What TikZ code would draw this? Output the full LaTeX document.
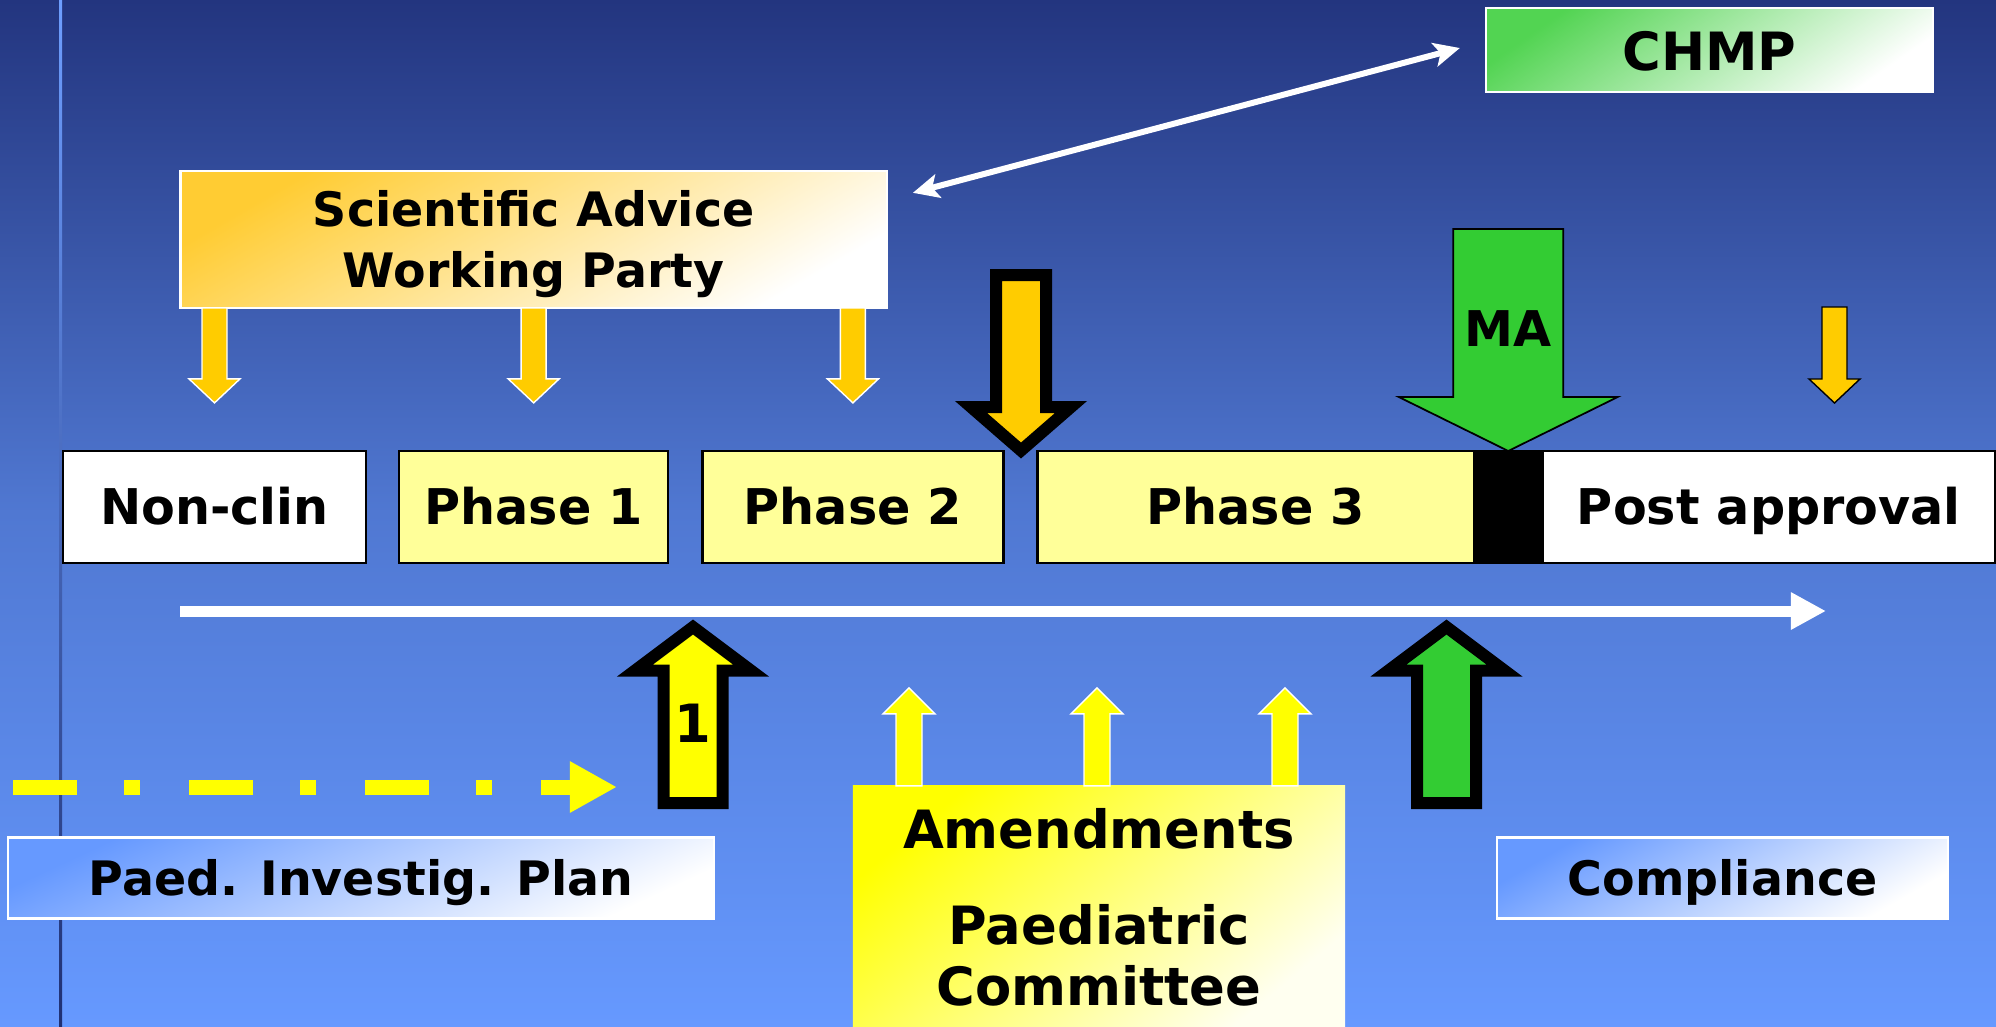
\documentclass[tikz,border=0pt]{standalone}
\usepackage{fontspec}
\setmainfont{DejaVu Sans}
\usetikzlibrary{positioning,arrows.meta}

\definecolor{bgtop}{RGB}{35,53,127}
\definecolor{bgmid}{RGB}{80,120,210}
\definecolor{bgbot}{RGB}{102,153,255}
\definecolor{phaseyellow}{RGB}{255,255,153}
\definecolor{advorange}{RGB}{255,204,0}
\definecolor{sawpgold}{RGB}{255,204,51}
\definecolor{magreen}{RGB}{51,204,51}
\definecolor{pipblue}{RGB}{102,153,255}
\definecolor{pdcoyellow}{RGB}{255,255,0}
\definecolor{paleyellow}{RGB}{255,255,240}

\begin{document}
\begin{tikzpicture}[
  x=0.01cm, y=-0.01cm,
  font=\fontsize{14}{17}\selectfont\bfseries,
  phase/.style={draw, line width=0.7pt, fill=phaseyellow, minimum height=1.12cm, inner sep=0pt, outer sep=0pt, text height=10.2pt, text depth=0pt},
  gradbox/.style={draw=white, line width=0.6pt, inner sep=0pt, outer sep=0pt, top color=#1, bottom color=white, shading angle=30},
  captext/.style={text height=10.2pt, text depth=0pt},
  advarrow/.style={fill=advorange, draw=white, line width=0.4pt},
  pdcoarrow/.style={fill=pdcoyellow, draw=white, line width=0.4pt},
  bigarrow/.style={draw=black, line width=0.12cm, line join=miter},
  timeline/.style={white, line width=0.11cm, -{Triangle[length=0.35cm,width=0.35cm]}},
  pipline/.style={pdcoyellow, line width=0.15cm, dash pattern=on 18.2pt off 13.4pt on 4.55pt off 13.9pt, -{Triangle[length=0.47cm,width=0.48cm]}},
  link/.style={white, line width=0.06cm, {Stealth[length=0.26cm,width=0.24cm,inset=0.06cm]}-{Stealth[length=0.26cm,width=0.24cm,inset=0.06cm]}},
]
  \path[use as bounding box, clip] (0,0) rectangle (1996,1026);
  \shade[top color=bgtop, bottom color=bgbot, middle color=bgmid] (0,0) rectangle (1996,1026);
  \shade[top color=bgbot!95!white, bottom color=bgtop!90!black] (59,0) rectangle (62,1026);

  % development phases
  \node[phase, fill=white, minimum width=3.03cm] (nonclin) at (214.5,507) {Non-clin};
  \node[phase, minimum width=2.69cm, right=0.33cm of nonclin] (phaseone) {Phase 1};
  \node[phase, minimum width=3.01cm, right=0.34cm of phaseone] (phasetwo) {Phase 2};
  \node[phase, minimum width=4.36cm, right=0.34cm of phasetwo] (phasethree) {Phase 3};
  \node[phase, fill=black, minimum width=0.69cm, right=0pt of phasethree] (mabox) {};
  \node[phase, fill=white, minimum width=4.52cm, right=0pt of mabox] (postappr) {Post approval};

  \node[gradbox=sawpgold, minimum width=7.06cm, minimum height=1.37cm, align=center, text depth=0pt,
        font=\fontsize{13.5}{17.4}\selectfont\bfseries, above=1.43cm of phaseone] (sawp) {Scientific Advice\\Working Party};
  \node[gradbox=magreen!85!white, shading angle=35, minimum width=4.47cm, minimum height=0.84cm, text height=11.4pt, text depth=0pt,
        font=\fontsize{15}{18}\selectfont\bfseries] (chmp) at (1709.5,50) {CHMP};
  \draw[link] ([shift={(26,22)}]sawp.north east) -- ([shift={(-26,-2)}]chmp.west);

  % advice arrows
  \draw[advarrow] (nonclin |- sawp.south) ++(-12.5,0) -- ++(0,71) -- ++(-13,0) -- ++(25.5,24) -- ++(25.5,-24) -- ++(-13,0) -- ++(0,-71) -- cycle;
  \draw[advarrow] (phaseone |- sawp.south) ++(-12.5,0) -- ++(0,71) -- ++(-13,0) -- ++(25.5,24) -- ++(25.5,-24) -- ++(-13,0) -- ++(0,-71) -- cycle;
  \draw[advarrow] (phasetwo |- sawp.south) ++(-12.5,0) -- ++(0,71) -- ++(-13,0) -- ++(25.5,24) -- ++(25.5,-24) -- ++(-13,0) -- ++(0,-71) -- cycle;
  \draw[advarrow, draw=black] (1834.5,307) ++(-12.5,0) -- ++(0,72) -- ++(-13,0) -- ++(25.5,24) -- ++(25.5,-24) -- ++(-13,0) -- ++(0,-72) -- cycle;
  \draw[bigarrow, fill=advorange] (1021,275) ++(-25,0) -- ++(0,132) -- ++(-25,0) -- ++(50,43.5) -- ++(50,-43.5) -- ++(-25,0) -- ++(0,-132) -- cycle;

  % marketing authorisation
  \draw[fill=magreen, line width=0.5pt] (mabox.north) ++(-55,-222) -- ++(0,168) -- ++(-54.5,0) -- ++(109.5,54) -- ++(109.5,-54) -- ++(-54.5,0) -- ++(0,-168) -- cycle;
  \node[captext] (ma) at (1508,329) {MA};

  \coordinate (tlstart) at (180,611);
  \coordinate (tlend) at (1826,611);
  \draw[timeline] (tlstart) -- (tlend);

  % PIP and compliance check
  \draw[bigarrow, fill=pdcoyellow] (693,803) ++(-29.5,0) -- ++(0,-132.5) -- ++(-28.5,0) -- ++(58,-43.5) -- ++(58,43.5) -- ++(-28.5,0) -- ++(0,132.5) -- cycle;
  \node[captext, font=\fontsize{15}{18}\selectfont\bfseries] (one) at (693,725) {1};
  \draw[bigarrow, fill=magreen] (1446.5,803) ++(-29.5,0) -- ++(0,-132.5) -- ++(-28.5,0) -- ++(58,-43.5) -- ++(58,43.5) -- ++(-28.5,0) -- ++(0,132.5) -- cycle;

  \coordinate (pipstart) at (13,787);
  \coordinate (pipend) at (617,787);
  \draw[pipline] (pipstart) -- (pipend);

  \node[gradbox=pipblue, shading angle=25, minimum width=7.06cm, minimum height=0.81cm, captext, text height=9.8pt,
        font=\fontsize{13.5}{16}\selectfont\bfseries] (pip) at (361,878) {Paed. Investig. Plan};
  \node[gradbox=pipblue, minimum width=4.51cm, minimum height=0.81cm, captext, text height=9.8pt,
        font=\fontsize{13.5}{16}\selectfont\bfseries] (compl) at (1722.5,878) {Compliance};

  \node[gradbox=pdcoyellow, draw=none, bottom color=paleyellow, shading angle=40, minimum width=4.92cm, minimum height=2.43cm,
        align=center, font=\fontsize{15}{17.4}\selectfont\bfseries] (amend) at (1099,907.5) {Amendments\\[0.35cm]Paediatric\\Committee};
  \draw[pdcoarrow] (amend.north) ++(-203,0) -- ++(0,-72) -- ++(-13,0) -- ++(26,-26) -- ++(26,26) -- ++(-13,0) -- ++(0,72) -- cycle;
  \draw[pdcoarrow] (amend.north) ++(-15,0) -- ++(0,-72) -- ++(-13,0) -- ++(26,-26) -- ++(26,26) -- ++(-13,0) -- ++(0,72) -- cycle;
  \draw[pdcoarrow] (amend.north) ++(173,0) -- ++(0,-72) -- ++(-13,0) -- ++(26,-26) -- ++(26,26) -- ++(-13,0) -- ++(0,72) -- cycle;
\end{tikzpicture}
\end{document}
